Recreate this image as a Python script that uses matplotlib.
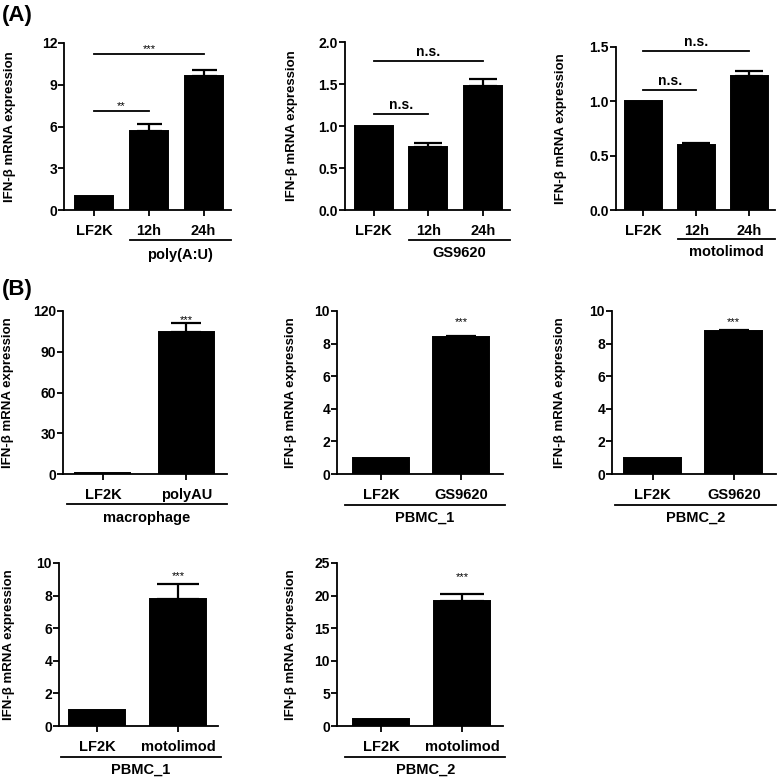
import matplotlib
matplotlib.use("Agg")
import matplotlib.pyplot as plt
from matplotlib.transforms import blended_transform_factory

plt.rcParams['font.family'] = ['Liberation Sans', 'DejaVu Sans']
plt.rcParams['font.weight'] = 'bold'

W, H = 778, 777

# ---------------- data ----------------
a1_cats = ["LF2K", "12h", "24h"]
a1_vals = [1.0, 5.65, 9.65]
a1_err = [0.0, 0.5, 0.4]
a1_ticks = [0, 3, 6, 9, 12]

a2_cats = ["LF2K", "12h", "24h"]
a2_vals = [1.0, 0.75, 1.48]
a2_err = [0.0, 0.045, 0.085]
a2_ticks = [0.0, 0.5, 1.0, 1.5, 2.0]

a3_cats = ["LF2K", "12h", "24h"]
a3_vals = [1.0, 0.6, 1.23]
a3_err = [0.0, 0.02, 0.045]
a3_ticks = [0.0, 0.5, 1.0, 1.5]

b1_cats = ["LF2K", "polyAU"]
b1_vals = [1.0, 104.5]
b1_err = [0.0, 6.5]
b1_ticks = [0, 30, 60, 90, 120]

b2_cats = ["LF2K", "GS9620"]
b2_vals = [1.0, 8.42]
b2_err = [0.0, 0.05]
b2_ticks = [0, 2, 4, 6, 8, 10]

b3_cats = ["LF2K", "GS9620"]
b3_vals = [1.0, 8.8]
b3_err = [0.0, 0.05]
b3_ticks = [0, 2, 4, 6, 8, 10]

b4_cats = ["LF2K", "motolimod"]
b4_vals = [1.0, 7.8]
b4_err = [0.0, 0.9]
b4_ticks = [0, 2, 4, 6, 8, 10]

b5_cats = ["LF2K", "motolimod"]
b5_vals = [1.0, 19.2]
b5_err = [0.0, 1.1]
b5_ticks = [0, 5, 10, 15, 20, 25]

ylabel = "IFN-β mRNA expression"

fig = plt.figure(figsize=(W / 100, H / 100), dpi=100)


def make_axes(l, r, t, b):
    return fig.add_axes([l / W, 1 - b / H, (r - l) / W, (b - t) / H])


def panel(box, cats, vals, errs, ticks, xlim, width, capsize, ylab_x, fmt=None):
    l, r, t, b = box
    ax = make_axes(l, r, t, b)
    x = list(range(len(cats)))
    ax.bar(x, vals, width=width, color='black', edgecolor='black', linewidth=1.4, zorder=2)
    errx = [xi for xi, e in zip(x, errs) if e > 0]
    erry = [v for v, e in zip(vals, errs) if e > 0]
    erre = [e for e in errs if e > 0]
    if errx:
        ax.errorbar(errx, erry, yerr=[[0] * len(erre), erre], fmt='none', ecolor='black',
                    elinewidth=1.6, capsize=capsize, capthick=1.6, zorder=1)
    ax.set_xlim(*xlim)
    ax.set_ylim(ticks[0], ticks[-1])
    ax.set_yticks(ticks)
    if fmt:
        ax.set_yticklabels([fmt.format(v) for v in ticks])
    ax.set_xticks(x)
    ax.set_xticklabels(cats)
    for s in ['top', 'right']:
        ax.spines[s].set_visible(False)
    for s in ['left', 'bottom']:
        ax.spines[s].set_linewidth(1.3)
    ax.tick_params(axis='both', direction='out', length=4, width=1.3)
    ax.tick_params(axis='y', labelsize=10, pad=1)
    ax.tick_params(axis='x', labelsize=10.5, pad=6)
    for lab in ax.get_xticklabels() + ax.get_yticklabels():
        lab.set_fontweight('bold')
    ax.set_ylabel(ylabel, fontsize=9.5, fontweight='bold')
    ax.yaxis.set_label_coords((ylab_x - l) / (r - l), 0.5)
    ax.patch.set_visible(False)
    return ax


def fy(ypx):
    return 1 - ypx / H


def bracket(ax, x0, x1, ypx, label, labypx):
    tr = blended_transform_factory(ax.transData, fig.transFigure)
    ax.plot([x0, x1], [fy(ypx), fy(ypx)], color='black', lw=1.3, transform=tr, clip_on=False)
    ax.text((x0 + x1) / 2, fy(labypx), label, transform=tr, ha='center', va='center',
            fontsize=10.5, fontweight='bold')


def sig(ax, x0, x1, y, label, dy_pts=1, size=10, weight='bold'):
    ax.plot([x0, x1], [y, y], color='black', lw=1.3, clip_on=False)
    ax.annotate(label, xy=((x0 + x1) / 2, y), xytext=(0, dy_pts), textcoords='offset points',
                ha='center', va='bottom', fontsize=size, fontweight=weight, annotation_clip=False)


def star(ax, xpos, y, size=8):
    ax.text(xpos, y, "***", ha='center', va='center', fontsize=size, fontweight='normal')


# ---------------- (A) row ----------------
axA1 = panel((64, 231, 43, 210), a1_cats, a1_vals, a1_err, a1_ticks, (-0.55, 2.5), 0.69, 9, 16)
sig(axA1, 0.0, 2.0, 11.2, "***", dy_pts=0, size=8, weight='normal')
sig(axA1, 0.0, 1.0, 7.1, "**", dy_pts=0, size=8, weight='normal')
bracket(axA1, 0.65, 2.5, 240, "poly(A:U)", 255)

axA2 = panel((345, 510, 42, 210), a2_cats, a2_vals, a2_err, a2_ticks, (-0.53, 2.5), 0.7, 10, 298, "{:.1f}")
sig(axA2, 0.0, 2.0, 1.774, "n.s.", dy_pts=1.5, size=10)
sig(axA2, 0.0, 1.0, 1.143, "n.s.", dy_pts=1.5, size=10)
bracket(axA2, 0.65, 2.5, 240, "GS9620", 253)

axA3 = panel((616, 775, 47, 210), a3_cats, a3_vals, a3_err, a3_ticks, (-0.51, 2.48), 0.7, 10, 567, "{:.1f}")
sig(axA3, 0.0, 2.0, 1.463, "n.s.", dy_pts=1.5, size=10)
sig(axA3, 0.0, 1.0, 1.104, "n.s.", dy_pts=1.5, size=10)
bracket(axA3, 0.66, 2.48, 239, "motolimod", 252)

# ---------------- (B) rows ----------------
axB1 = panel((63, 227, 311, 474), b1_cats, b1_vals, b1_err, b1_ticks, (-0.48, 1.49), 0.66, 11, 14)
star(axB1, 1, 113)
bracket(axB1, -0.43, 1.49, 504, "macrophage", 518)

axB2 = panel((337, 503, 311, 474), b2_cats, b2_vals, b2_err, b2_ticks, (-0.55, 1.525), 0.7, 11, 297)
star(axB2, 1, 9.3)
bracket(axB2, -0.45, 1.55, 505, "PBMC_1", 518)

axB3 = panel((612, 776, 311, 474), b3_cats, b3_vals, b3_err, b3_ticks, (-0.5, 1.52), 0.7, 11, 566)
star(axB3, 1, 9.3)
bracket(axB3, -0.46, 1.52, 505, "PBMC_2", 518)

axB4 = panel((59, 218, 563, 726), b4_cats, b4_vals, b4_err, b4_ticks, (-0.47, 1.49), 0.69, 15, 15)
star(axB4, 1, 9.2)
bracket(axB4, -0.45, 1.53, 757, "PBMC_1", 770)

axB5 = panel((337, 503, 563, 726), b5_cats, b5_vals, b5_err, b5_ticks, (-0.54, 1.5), 0.69, 16, 297)
star(axB5, 1, 22.9)
bracket(axB5, -0.44, 1.53, 757, "PBMC_2", 770)

fig.text(2 / W, fy(15), "(A)", fontsize=16, fontweight='bold', ha='left', va='center')
fig.text(2 / W, fy(290), "(B)", fontsize=16, fontweight='bold', ha='left', va='center')

fig.savefig("out.png", dpi=100)
